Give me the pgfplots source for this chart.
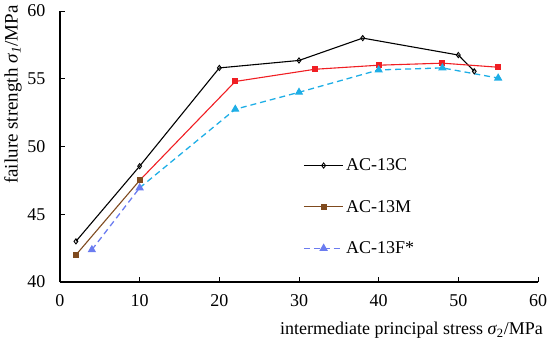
\documentclass[border=0pt]{standalone}
\usepackage{pgfplots}
\pgfplotsset{compat=1.18}
\usepackage{fontspec}
\setmainfont{Liberation Serif}
\definecolor{cred}{HTML}{F01E23}
\definecolor{cbrown}{HTML}{7F4A1E}
\definecolor{ccyan}{HTML}{1EAEE6}
\definecolor{cblue}{HTML}{6B7CF0}
\begin{document}
\begin{tikzpicture}
\begin{axis}[
  scale only axis,
  width=478bp, height=271bp,
  xmin=0, xmax=60, ymin=40, ymax=60,
  xtick={0,10,...,60}, ytick={40,45,...,60},
  axis lines=left,
  axis line style={-, line width=1.2pt},
  tick style={line width=1pt, black},
  tick align=inside,
  major tick length=5bp,
  /pgf/number format/assume math mode=true,
  tick label style={font=\fontsize{18bp}{21bp}\selectfont},
  xticklabel style={yshift=-9bp},
  yticklabel style={xshift=-11bp},
  xlabel={intermediate principal stress \textit{σ}\textsubscript{2}/MPa},
  ylabel={failure strength \textit{σ}\textsubscript{\textit{1}}/MPa},
  every axis x label/.style={at={(rel axis cs:1,0)}, anchor=north east, inner sep=0pt, xshift=5bp, yshift=-40bp, font=\fontsize{18bp}{21bp}\selectfont},
  every axis y label/.style={at={(rel axis cs:0,1)}, rotate=90, anchor=east, inner sep=0pt, xshift=6bp, yshift=47bp, font=\fontsize{19bp}{22bp}\selectfont},
  legend style={draw=none, fill=none, at={(rel axis cs:0.502,0.47)}, anchor=north west,
    font=\fontsize{18bp}{21bp}\selectfont, row sep=24bp},
  legend cell align=left,
  legend image code/.code={\draw[mark repeat=2,mark phase=2] plot coordinates {(0cm,0cm) (0.7cm,0cm) (1.4cm,0cm)};},
]
\addplot[black, line width=1.1pt, mark=diamond, mark size=2.6pt, mark options={solid, fill=white, line width=0.9pt}]
  coordinates {(2,43.0) (10,48.55) (20,55.8) (30,56.35) (38,58.0) (50,56.75) (52,55.55)};
\addlegendentry{AC-13C}
\addplot[cred, line width=1.1pt, mark=square*, mark size=2.5pt, mark indices={2,3,4,5,6}, forget plot]
  coordinates {(10,47.5) (22,54.8) (32,55.7) (40,56.0) (48,56.15) (55,55.85)};
\addplot[cbrown, line width=1.1pt, mark=square*, mark size=2.5pt]
  coordinates {(2,42.0) (10,47.5)};
\addlegendentry{AC-13M}
\addplot[ccyan, line width=1.3pt, dash pattern=on 6pt off 4pt, mark=triangle*, mark size=3.6pt, mark options={solid}, mark indices={2,3,4,5,6}, forget plot]
  coordinates {(10,46.95) (22,52.75) (30,54.0) (40,55.65) (48,55.8) (55,55.05)};
\addplot[cblue, line width=1.3pt, dash pattern=on 6pt off 4pt, mark=triangle*, mark size=3.6pt, mark options={solid}]
  coordinates {(4,42.38) (10,46.95)};
\addlegendentry{AC-13F*}
\path (rel axis cs:0,0) ++(-60bp,-67bp) coordinate (bl);
\path (rel axis cs:1,1) ++(12bp,11bp) coordinate (tr);
\end{axis}
\pgfresetboundingbox
\path[use as bounding box] (bl) rectangle (tr);
\end{tikzpicture}
\end{document}
